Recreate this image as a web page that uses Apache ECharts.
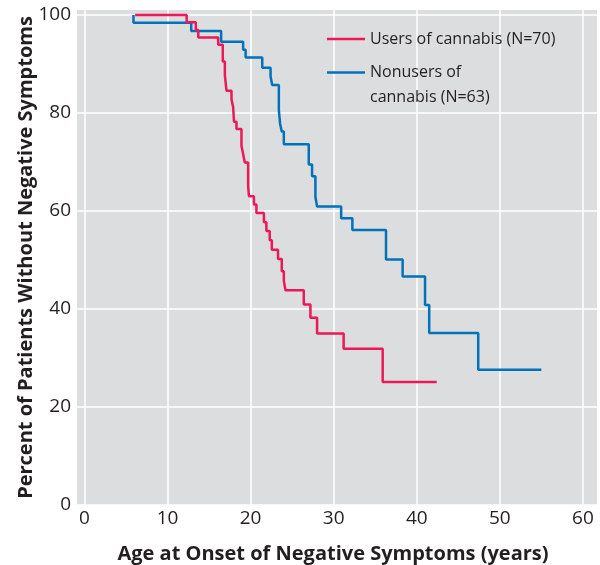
<!DOCTYPE html>
<html><head><meta charset="utf-8">
<script src="https://cdn.jsdelivr.net/npm/echarts@6/dist/echarts.min.js"></script>
<style>html,body{margin:0;padding:0;background:#fff}#c{width:600px;height:565px}</style>
</head><body><div id="c"></div>
<script>
// Kaplan-Meier style step data (age in years, percent without negative symptoms)
const usersAge = [6.1, 12.3, 13.4, 13.7, 16.1, 16.65, 16.9, 17.1, 17.7, 17.9, 18.0, 18.3, 18.9, 19.1, 19.3, 19.7, 19.8, 20.4, 20.7, 21.6, 21.9, 22.3, 22.55, 23.3, 23.75, 24.0, 24.2, 26.4, 27.2, 28.0, 31.2, 35.9, 42.4];
const usersPct = [100, 98.5, 96.9, 95.4, 93.9, 90.5, 87.7, 84.5, 82.8, 81.1, 78.2, 76.7, 73.3, 71.6, 69.9, 65.1, 63.0, 61.3, 59.6, 57.7, 55.9, 54.0, 52.1, 50.2, 47.7, 45.7, 43.8, 40.9, 38.2, 35.0, 31.9, 25.1, 25.1];
const nonusersAge = [5.9, 5.9, 12.85, 16.45, 19.1, 19.4, 21.4, 22.4, 22.6, 23.4, 23.55, 23.75, 24.0, 27.0, 27.4, 27.8, 28.0, 30.9, 32.25, 36.3, 38.3, 41.0, 41.5, 47.4, 55.0];
const nonusersPct = [100, 98.4, 96.7, 94.5, 92.9, 91.3, 89.2, 87.5, 85.7, 80.5, 77.8, 76.2, 73.6, 69.5, 67.1, 62.9, 60.9, 58.5, 56.1, 50.1, 46.6, 40.8, 35.1, 27.6, 27.6];
const xTicks = [0, 10, 20, 30, 40, 50, 60];
const yTicks = [0, 20, 40, 60, 80, 100];
const usersName = 'Users of cannabis (N=70)';
const nonusersName = 'Nonusers of cannabis (N=63)';

const zip = (a, b) => a.map((v, i) => [v, b[i]]);
const font = '"Open Sans", "Noto Sans", sans-serif';
const textColor = '#231f20';

const chart = echarts.init(document.getElementById('c'), null, {renderer: 'canvas'});
chart.setOption({
  animation: false,
  backgroundColor: '#ffffff',
  textStyle: {fontFamily: font},
  grid: {left: 77, right: 3, top: 10, bottom: 60, show: true, backgroundColor: '#dcdddf', borderWidth: 0,
         containLabel: false, outerBoundsMode: 'none'},
  xAxis: {
    type: 'value', min: -0.9, max: 61.7,
    name: 'Age at Onset of Negative Symptoms (years)',
    nameLocation: 'middle', nameGap: 39, nameMoveOverlap: false,
    nameTextStyle: {fontFamily: font, fontSize: 20, fontWeight: 'bold', color: textColor, padding: [0, 8, 0, 0]},
    axisLine: {show: false},
    axisTick: {show: false, customValues: xTicks},
    axisLabel: {customValues: xTicks, fontSize: 19, color: textColor, margin: 4, fontFamily: font},
    splitLine: {show: true, lineStyle: {color: '#ffffff', width: 1.5}}
  },
  yAxis: {
    type: 'value', min: 0, max: 101,
    name: 'Percent of Patients Without Negative Symptoms',
    nameLocation: 'middle', nameGap: 41, nameMoveOverlap: false,
    nameTextStyle: {fontFamily: font, fontSize: 20, fontWeight: 'bold', color: textColor},
    axisLine: {show: false},
    axisTick: {show: false, customValues: yTicks},
    axisLabel: {customValues: yTicks, fontSize: 19, color: textColor, margin: 6, fontFamily: font},
    splitLine: {show: true, lineStyle: {color: '#ffffff', width: 1.5}}
  },
  legend: [
    {data: [usersName], left: 322, top: 26, itemWidth: 38, itemHeight: 2.5, icon: 'rect', selectedMode: false,
     textStyle: {fontSize: 16, color: textColor, fontFamily: font}},
    {data: [nonusersName], left: 322, top: 30, itemWidth: 38, itemHeight: 2.5, icon: 'rect', selectedMode: false,
     formatter: () => '\nNonusers of\ncannabis (N=63)',
     textStyle: {fontSize: 16, color: textColor, fontFamily: font, lineHeight: 25}}
  ],
  series: [
    {name: usersName, type: 'line', step: 'end', symbol: 'none', data: zip(usersAge, usersPct),
     lineStyle: {color: '#ec1858', width: 2.5}, itemStyle: {color: '#ec1858'}, z: 3},
    {name: nonusersName, type: 'line', step: 'end', symbol: 'none', data: zip(nonusersAge, nonusersPct),
     lineStyle: {color: '#0072bc', width: 2.5}, itemStyle: {color: '#0072bc'}, z: 2}
  ]
});
</script></body></html>
